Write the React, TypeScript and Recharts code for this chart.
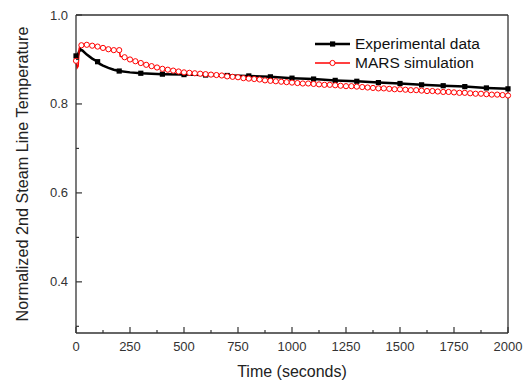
import { Legend, Line, LineChart, XAxis, YAxis } from "recharts";

// Normalized 2nd steam line temperature vs. time — experiment vs. MARS.
const blackTimes = [
  0, 5, 12, 20, 30, 50, 75, 100, 110, 125, 150, 175, 200, 250, 300, 350, 400,
  500, 600, 700, 800, 900, 1000, 1100, 1200, 1300, 1400, 1500, 1600, 1700,
  1800, 1900, 2000,
];
const blackValues = [
  0.908, 0.903, 0.915, 0.923, 0.92, 0.911, 0.902, 0.895, 0.89, 0.886, 0.881,
  0.877, 0.874, 0.871, 0.869, 0.868, 0.867, 0.866, 0.865, 0.864, 0.863, 0.861,
  0.858, 0.856, 0.853, 0.851, 0.848, 0.846, 0.843, 0.841, 0.839, 0.836, 0.834,
];

const redTimes = [
  0, 5, 10, 15, 25, 50, 75, 100, 125, 150, 175, 200, 205, 225, 250, 275, 300,
  325, 350, 375, 400, 425, 450, 475, 500, 525, 550, 575, 600, 625, 650, 675,
  700, 725, 750, 775, 800, 825, 850, 875, 900, 925, 950, 975, 1000, 1025, 1050,
  1075, 1100, 1125, 1150, 1175, 1200, 1225, 1250, 1275, 1300, 1325, 1350, 1375,
  1400, 1425, 1450, 1475, 1500, 1525, 1550, 1575, 1600, 1625, 1650, 1675, 1700,
  1725, 1750, 1775, 1800, 1825, 1850, 1875, 1900, 1925, 1950, 1975, 2000,
];
const redValues = [
  0.897, 0.881, 0.885, 0.926, 0.932, 0.933, 0.931, 0.929, 0.926, 0.923, 0.921,
  0.921, 0.907, 0.905, 0.9, 0.896, 0.892, 0.888, 0.885, 0.882, 0.879, 0.877,
  0.875, 0.873, 0.871, 0.87, 0.869, 0.868, 0.867, 0.866, 0.865, 0.864, 0.862,
  0.861, 0.86, 0.858, 0.857, 0.856, 0.855, 0.853, 0.852, 0.851, 0.85, 0.849,
  0.848, 0.847, 0.846, 0.846, 0.845, 0.844, 0.843, 0.843, 0.842, 0.841, 0.84,
  0.84, 0.839, 0.838, 0.837, 0.836, 0.835, 0.835, 0.834, 0.833, 0.833, 0.832,
  0.831, 0.831, 0.83, 0.829, 0.829, 0.828, 0.827, 0.827, 0.826, 0.825, 0.825,
  0.824, 0.823, 0.823, 0.822, 0.821, 0.821, 0.82, 0.819,
];

const xMajorTicks = [0, 250, 500, 750, 1000, 1250, 1500, 1750, 2000];
const xMinorTicks = [125, 375, 625, 875, 1125, 1375, 1625, 1875];
const yMajorTicks = [0.4, 0.6, 0.8, 1.0];
const yMinorTicks = [0.3, 0.5, 0.7, 0.9];

const seriesNames = ["Experimental data", "MARS simulation"];

const FONT = 'Arial, "Liberation Sans", Helvetica, sans-serif';
const AXIS = "#333";
const MAJOR = 6;
const MINOR = 3;

const xTicks = [...xMajorTicks, ...xMinorTicks].sort((a, b) => a - b);
const yTicks = [...yMajorTicks, ...yMinorTicks].sort((a, b) => a - b);

const blackData = blackTimes.map((t, i) => ({ t, v: blackValues[i] }));
const redData = redTimes.map((t, i) => ({ t, v: redValues[i] }));

function BottomTick({ x, y, payload }: any) {
  const major = xMajorTicks.includes(payload.value);
  return (
    <g>
      <line x1={x} x2={x} y1={y} y2={y - (major ? MAJOR : MINOR)} stroke={AXIS} strokeWidth={1.2} />
      {major && (
        <text x={x} y={y + 18} textAnchor="middle" fontSize={13} fill="#333" fontFamily={FONT}>
          {payload.value}
        </text>
      )}
    </g>
  );
}

function TopTick({ x, y, payload }: any) {
  const major = xMajorTicks.includes(payload.value);
  return <line x1={x} x2={x} y1={y} y2={y + (major ? MAJOR : MINOR)} stroke={AXIS} strokeWidth={1.2} />;
}

function LeftTick({ x, y, payload }: any) {
  const major = yMajorTicks.includes(payload.value);
  return (
    <g>
      <line x1={x} x2={x + (major ? MAJOR : MINOR)} y1={y} y2={y} stroke={AXIS} strokeWidth={1.2} />
      {major && (
        <text x={x - 8} y={y + 4.5} textAnchor="end" fontSize={13} fill="#333" fontFamily={FONT}>
          {payload.value.toFixed(1)}
        </text>
      )}
    </g>
  );
}

function RightTick({ x, y, payload }: any) {
  const major = yMajorTicks.includes(payload.value);
  return <line x1={x} x2={x - (major ? MAJOR : MINOR)} y1={y} y2={y} stroke={AXIS} strokeWidth={1.2} />;
}

// black squares every 100 s, red open circles every 25 s
function squareDot(p: any) {
  if (p.payload.t % 100 !== 0) return <g key={`b-${p.index}`} />;
  return <rect key={`b-${p.index}`} x={p.cx - 2.6} y={p.cy - 2.6} width={5.2} height={5.2} fill="#000" />;
}

function circleDot(p: any) {
  if (p.payload.t % 25 !== 0) return <g key={`r-${p.index}`} />;
  return <circle key={`r-${p.index}`} cx={p.cx} cy={p.cy} r={2.6} fill="#fff" stroke="#ff0000" strokeWidth={1} />;
}

function LegendBox() {
  return (
    <div style={{ fontFamily: FONT, fontSize: 15.5, color: "#111" }}>
      {seriesNames.map((name, i) => (
        <div key={name} style={{ display: "flex", alignItems: "center", height: 19 }}>
          <svg width={40} height={12} style={{ marginRight: 2 }}>
            <line x1={2} x2={37} y1={6} y2={6} stroke={i === 0 ? "#000" : "#ff0000"} strokeWidth={i === 0 ? 2.5 : 1.5} />
            {i === 0 ? (
              <rect x={17} y={3.4} width={5.2} height={5.2} fill="#000" />
            ) : (
              <circle cx={19.5} cy={6} r={2.6} fill="#fff" stroke="#ff0000" strokeWidth={1} />
            )}
          </svg>
          <span>{name}</span>
        </div>
      ))}
    </div>
  );
}

export default function App() {
  return (
    <div style={{ position: "absolute", left: 0, top: 0, background: "#fff" }}>
      <LineChart width={524} height={384} margin={{ top: 0, right: 0, bottom: 0, left: 0 }}>
        <XAxis
          xAxisId="b"
          dataKey="t"
          type="number"
          domain={[0, 2000]}
          ticks={xTicks}
          interval={0}
          height={51}
          tickSize={0}
          tickMargin={0}
          tickLine={false}
          axisLine={{ stroke: AXIS, strokeWidth: 1.3 }}
          tick={(p: any) => <BottomTick {...p} />}
          label={{
            value: "Time (seconds)",
            position: "insideBottom",
            offset: 7,
            style: { fontFamily: FONT, fontSize: 16, fill: "#222" },
          }}
        />
        <XAxis
          xAxisId="t"
          orientation="top"
          type="number"
          domain={[0, 2000]}
          ticks={xTicks}
          interval={0}
          height={15}
          tickSize={0}
          tickMargin={0}
          tickLine={false}
          axisLine={{ stroke: AXIS, strokeWidth: 1.3 }}
          tick={(p: any) => <TopTick {...p} />}
        />
        <YAxis
          yAxisId="l"
          type="number"
          domain={[0.285, 1.0]}
          ticks={yTicks}
          interval={0}
          width={76}
          tickSize={0}
          tickMargin={0}
          tickLine={false}
          axisLine={{ stroke: AXIS, strokeWidth: 1.3 }}
          tick={(p: any) => <LeftTick {...p} />}
          label={{
            value: "Normalized 2nd Steam Line Temperature",
            angle: -90,
            position: "insideLeft",
            offset: 22,
            style: { fontFamily: FONT, fontSize: 16.2, fill: "#222", textAnchor: "middle" },
          }}
        />
        <YAxis
          yAxisId="r"
          orientation="right"
          type="number"
          domain={[0.285, 1.0]}
          ticks={yTicks}
          interval={0}
          width={16}
          tickSize={0}
          tickMargin={0}
          tickLine={false}
          axisLine={{ stroke: AXIS, strokeWidth: 1.3 }}
          tick={(p: any) => <RightTick {...p} />}
        />
        <Legend
          layout="vertical"
          align="center"
          verticalAlign="middle"
          wrapperStyle={{ top: 34, left: 313, width: "auto", height: "auto" }}
          content={() => <LegendBox />}
        />
        <Line
          xAxisId="b"
          yAxisId="l"
          data={blackData}
          dataKey="v"
          name={seriesNames[0]}
          type="linear"
          stroke="#000"
          strokeWidth={2.5}
          dot={squareDot}
          activeDot={false}
          isAnimationActive={false}
        />
        <Line
          xAxisId="b"
          yAxisId="l"
          data={redData}
          dataKey="v"
          name={seriesNames[1]}
          type="linear"
          stroke="#ff0000"
          strokeWidth={1.5}
          dot={circleDot}
          activeDot={false}
          isAnimationActive={false}
        />
      </LineChart>
    </div>
  );
}
